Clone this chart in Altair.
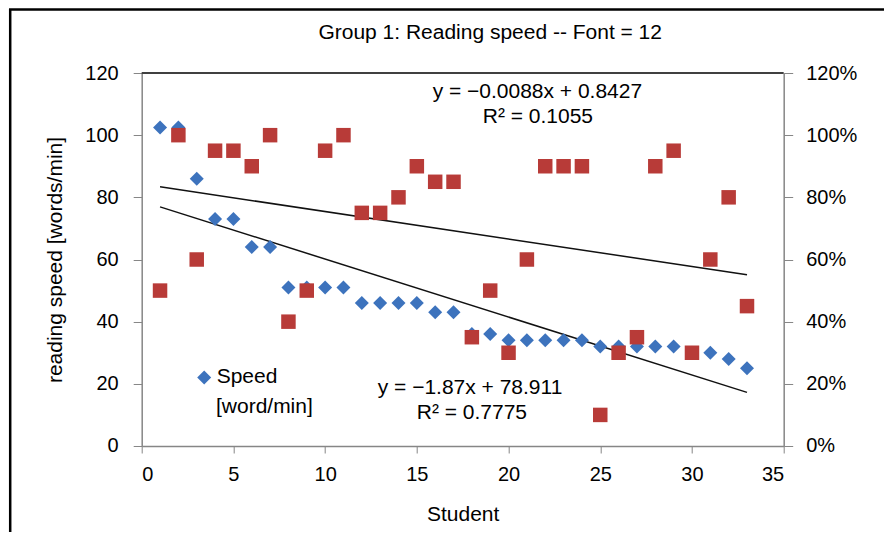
import altair as alt
import pandas as pd

# ---- data ----
students = list(range(1, 34))
speed = [102.5, 102.5, 86, 73, 73, 64, 64, 51, 51, 51, 51, 46, 46, 46, 46, 43, 43,
         36, 36, 34, 34, 34, 34, 34, 32, 32, 32, 32, 32, 30, 30, 28, 25]
score = [0.50, 1.00, 0.60, 0.95, 0.95, 0.90, 1.00, 0.40, 0.50, 0.95, 1.00, 0.75, 0.75,
         0.80, 0.90, 0.85, 0.85, 0.35, 0.50, 0.30, 0.60, 0.90, 0.90, 0.90, 0.10, 0.30,
         0.35, 0.90, 0.95, 0.30, 0.60, 0.80, 0.45]

eq_labels = ["y = \u22120.0088x + 0.8427", "R\u00b2 = 0.1055",
             "y = \u22121.87x + 78.911", "R\u00b2 = 0.7775"]
eq_x = [21.57, 21.6, 17.9, 18.0]
eq_y = [114.0, 105.9, 18.7, 10.6]

x_ticks = [0, 5, 10, 15, 20, 25, 30, 35]
y_ticks = [0, 20, 40, 60, 80, 100, 120]
pct_ticks = [0, 0.2, 0.4, 0.6, 0.8, 1.0, 1.2]

title_text = "Group 1: Reading speed -- Font = 12"

blue_df = pd.DataFrame({"Student": students, "Speed": speed, "series": ["Speed"] * len(students)})
red_df = pd.DataFrame({"Student": students, "Score": score})
ann_df = pd.DataFrame({"Student": eq_x, "Speed": eq_y, "label": eq_labels})
one = pd.DataFrame({"k": [0]})

FONT = "Liberation Sans"
W, H = 642, 373
BLUE = "#3D73BD"
RED = "#B83B38"
GRAY = "#868686"

x_enc = alt.X("Student:Q", scale=alt.Scale(domain=[0, 35], nice=False, zero=False),
              axis=alt.Axis(values=x_ticks, format="d", title="Student", tickSize=7,
                            labelPadding=12, titleY=69, titleBaseline="middle",
                            titleAlign="center"))
y_left = alt.Y("Speed:Q", scale=alt.Scale(domain=[0, 120], nice=False),
               axis=alt.Axis(values=y_ticks, format="d", title="reading speed [words/min]",
                             tickSize=8.5, labelPadding=15, titleX=-86, titleY=H / 2,
                             titleAngle=270, titleBaseline="middle", titleAlign="center"))
y_right = alt.Y("Score:Q", scale=alt.Scale(domain=[0, 1.2], nice=False),
                axis=alt.Axis(values=pct_ticks, format=".0%", orient="right", title=None,
                              tickSize=9, labelPadding=13))

leg = alt.Legend(orient="none", legendX=52, legendY=294, title=None,
                 labelFontSize=21, labelFont=FONT, labelColor="#000000", symbolSize=196,
                 labelOffset=2, padding=0)

blue_pts = alt.Chart(blue_df).mark_point(filled=True, opacity=1, size=196).encode(
    x=x_enc, y=y_left,
    color=alt.Color("series:N", scale=alt.Scale(domain=["Speed"], range=[BLUE]), legend=leg),
    shape=alt.Shape("series:N", scale=alt.Scale(domain=["Speed"], range=["diamond"]), legend=leg),
)
blue_trend = alt.Chart(blue_df).transform_regression(
    "Student", "Speed", extent=[1, 33]
).mark_line(color="#111111", strokeWidth=1.5).encode(x=x_enc, y=y_left)

ann = alt.Chart(ann_df).mark_text(fontSize=21, font=FONT, color="#000000",
                                  align="center", baseline="middle").encode(
    x=x_enc, y=y_left, text="label:N")

legend_line2 = alt.Chart(one).mark_text(
    fontSize=21, font=FONT, color="#000000", align="left", baseline="middle", text="[word/min]"
).encode(x=alt.value(74.3), y=alt.value(334.5))

title_mark = alt.Chart(one).mark_text(
    fontSize=21, font=FONT, color="#000000", align="center", baseline="middle", text=title_text
).encode(x=alt.value(348.5), y=alt.value(-40))

top_border = alt.Chart(one).mark_rule(color="#404040", strokeWidth=2).encode(
    x=alt.value(0), x2=alt.value(W), y=alt.value(0))
frame_left = alt.Chart(one).mark_rule(color="#000000", strokeWidth=2.5).encode(
    x=alt.value(-131.5), y=alt.value(-64), y2=alt.value(700))
frame_top = alt.Chart(one).mark_rule(color="#000000", strokeWidth=2.5).encode(
    x=alt.value(-132.7), x2=alt.value(900), y=alt.value(-63.6))

left = alt.layer(top_border, frame_left, frame_top, title_mark, blue_trend, blue_pts, ann,
                 legend_line2)

red_pts = alt.Chart(red_df).mark_point(filled=True, opacity=1, size=210, shape="square",
                                       color=RED).encode(x=x_enc, y=y_right)
red_trend = alt.Chart(red_df).transform_regression(
    "Student", "Score", extent=[1, 33]
).mark_line(color="#111111", strokeWidth=1.5).encode(x=x_enc, y=y_right)
right = alt.layer(red_trend, red_pts)

chart = alt.layer(left, right).resolve_scale(y="independent").properties(
    width=W, height=H,
    background="white",
    autosize=alt.AutoSizeParams(type="none"),
    padding={"left": 133.7, "top": 65, "right": 100, "bottom": 86},
).configure_view(stroke=None).configure_axis(
    grid=False, domainColor=GRAY, domainWidth=1.5, tickColor=GRAY, tickWidth=1,
    labelFont=FONT, labelFontSize=20, labelColor="#000000",
    titleFont=FONT, titleFontSize=21, titleFontWeight="normal", titleColor="#000000",
)

chart.save("out.html", embed_options={"renderer": "svg", "actions": False})
